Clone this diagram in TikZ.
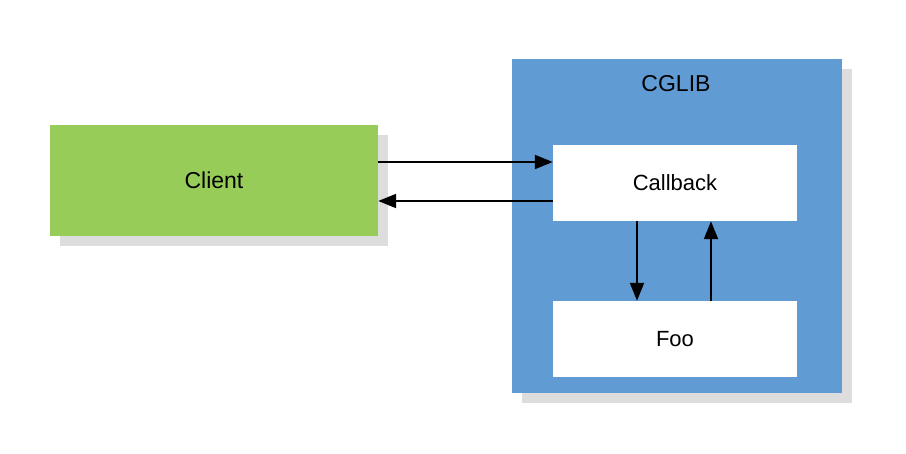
\documentclass[tikz,border=0pt]{standalone}
\usepackage{fontspec}
\setmainfont{Liberation Sans}
\usetikzlibrary{arrows.meta,shadows}
\definecolor{clientgreen}{RGB}{151,204,88}
\definecolor{libblue}{RGB}{96,155,211}
\definecolor{shadowgray}{RGB}{221,221,221}
\tikzset{
	box/.style={rectangle, inner sep=0pt, font=\fontsize{23}{27}\selectfont,
		drop shadow={shadow xshift=10pt, shadow yshift=-10pt, fill=shadowgray, opacity=1}},
	inner/.style={rectangle, fill=white, inner sep=0pt, minimum width=244pt, minimum height=76pt, font=\fontsize{22}{26}\selectfont},
	arr/.style={line width=2pt, -{Triangle[length=18pt,width=14pt]}}
}
\begin{document}
\begin{tikzpicture}[x=1pt, y=-1pt]
	\useasboundingbox[fill=white] (0,0) rectangle (906,454);
	\node[box, fill=clientgreen, minimum width=328pt, minimum height=111pt] (client) at (214,180.5) {Client};
	\node[box, fill=libblue, minimum width=330pt, minimum height=334pt] (cglib) at (677,226) {};
	\node[font=\fontsize{23}{27}\selectfont] (cglibtitle) at (676,84) {CGLIB};
	\node[inner] (callback) at (675,183) {Callback};
	\node[inner] (foo) at (675,339) {Foo};
	% client <-> callback
	\draw[arr] (client.east |- 0,162) -- (callback.west |- 0,162);
	\draw[arr] (callback.west |- 0,201) -- (client.east |- 0,201);
	% callback <-> foo
	\draw[arr] (callback.south -| 637,0) -- (foo.north -| 637,0);
	\draw[arr] (foo.north -| 711,0) -- (callback.south -| 711,0);
\end{tikzpicture}
\end{document}
